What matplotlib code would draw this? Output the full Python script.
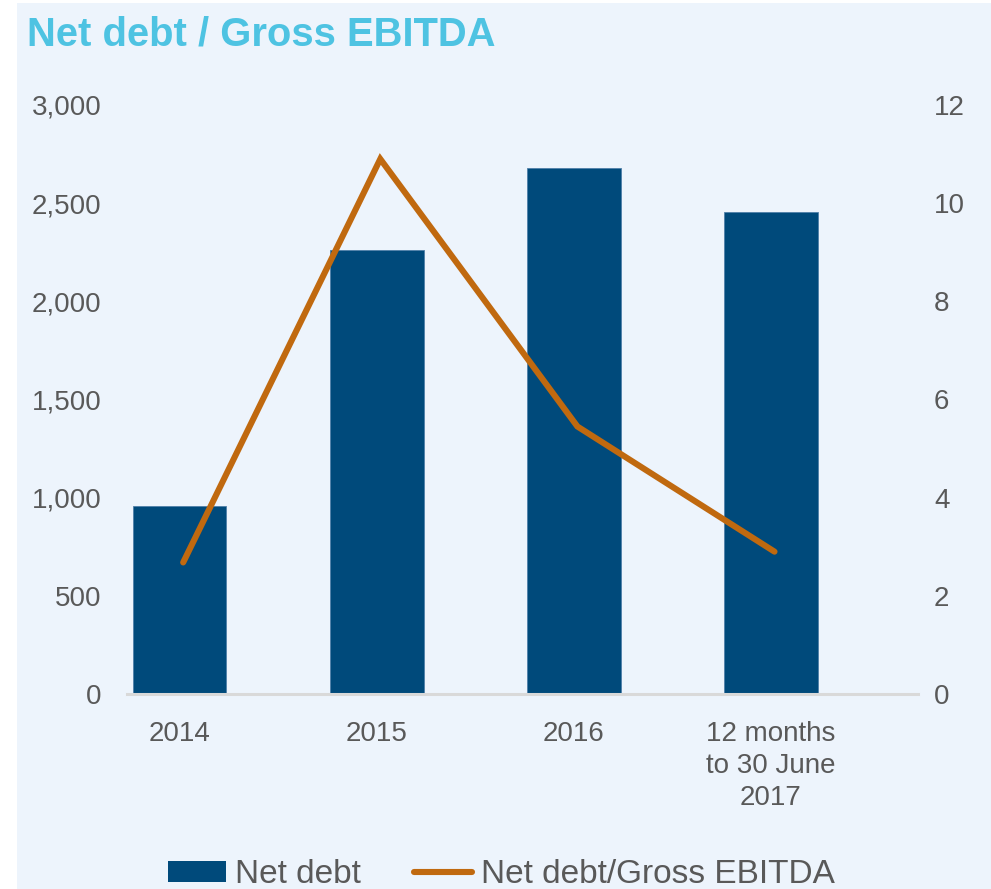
"""Net debt bars with Net debt / Gross EBITDA ratio on a secondary axis."""
import matplotlib

matplotlib.use("Agg")
import matplotlib.pyplot as plt
from matplotlib.patches import Patch, Rectangle
from matplotlib.lines import Line2D
from matplotlib.ticker import FuncFormatter

categories = ["2014", "2015", "2016", "12 months\nto 30 June\n2017"]
net_debt = [960, 2260, 2680, 2455]
debt_to_ebitda = [2.68, 10.9, 5.45, 2.9]

left_ticks = [0, 500, 1000, 1500, 2000, 2500, 3000]
right_ticks = [0, 2, 4, 6, 8, 10, 12]

BAR_COLOR = "#004A7B"
LINE_COLOR = "#C0690F"
BG_COLOR = "#EDF4FC"
TITLE_COLOR = "#4EC3E2"
TEXT_COLOR = "#595959"

W, H = 991, 889

_STYLE = {
    "font.family": ["Liberation Sans", "DejaVu Sans"],
    "font.size": 20,
    "text.color": TEXT_COLOR,
    "xtick.color": TEXT_COLOR,
    "ytick.color": TEXT_COLOR,
}

with plt.rc_context(_STYLE):
    fig = plt.figure(figsize=(W / 100, H / 100), dpi=100, facecolor="white")
    # light panel behind everything, leaving a thin white strip left/top
    fig.patches.append(
        Rectangle((17 / W, 0), 1, 886 / H, transform=fig.transFigure,
                  facecolor=BG_COLOR, edgecolor="none", zorder=-5)
    )

    ax = fig.add_axes([127 / W, (H - 694) / H, 791 / W, 589 / H])
    ax.set_facecolor("none")
    x = list(range(len(categories)))
    ax.bar(x, net_debt, width=0.475, color=BAR_COLOR,
           edgecolor="#4F7FA8", linewidth=0.6, zorder=2)
    ax.set_ylim(0, 3000)
    ax.set_yticks(left_ticks)
    ax.yaxis.set_major_formatter(FuncFormatter(lambda v, _: f"{v:,.0f}"))
    ax.set_xticks(x)
    ax.set_xticklabels(categories, linespacing=1.31)
    ax.set_xlim(-0.267, 3.746)
    for side in ("top", "right", "left"):
        ax.spines[side].set_visible(False)
    ax.spines["bottom"].set_color("#D9D9D9")
    ax.spines["bottom"].set_linewidth(2.2)
    ax.tick_params(axis="y", length=0, pad=18.5)
    ax.tick_params(axis="x", length=0, pad=19.5)

    # the ratio line sits a hair right of the bar centres in the original
    ax2 = ax.twinx()
    ax2.plot([i + 0.018 for i in x], debt_to_ebitda, color=LINE_COLOR,
             linewidth=4.4, solid_capstyle="round", solid_joinstyle="miter",
             zorder=3)
    ax2.set_ylim(0, 12)
    ax2.set_yticks(right_ticks)
    for side in ("top", "right", "left", "bottom"):
        ax2.spines[side].set_visible(False)
    ax2.tick_params(axis="y", length=0, pad=11.5)
    ax2.set_xlim(-0.267, 3.746)

    fig.text(27 / W, (H - 45) / H, "Net debt / Gross EBITDA", color=TITLE_COLOR,
             fontsize=28.8, fontweight="bold", va="baseline", ha="left")

    handles = [
        Patch(facecolor=BAR_COLOR, edgecolor="none", label="Net debt"),
        Line2D([0], [0], color=LINE_COLOR, linewidth=4.4,
               solid_capstyle="round", label="Net debt/Gross EBITDA"),
    ]
    fig.legend(handles=handles, loc="center left",
               bbox_to_anchor=(168 / W, 0.016), ncol=2, frameon=False,
               fontsize=24, handlelength=1.74, handleheight=0.55,
               handletextpad=0.27, columnspacing=1.6, borderpad=0,
               borderaxespad=0, labelcolor=TEXT_COLOR)

    fig.savefig("out.png", dpi=100, facecolor="white")
    plt.close(fig)
